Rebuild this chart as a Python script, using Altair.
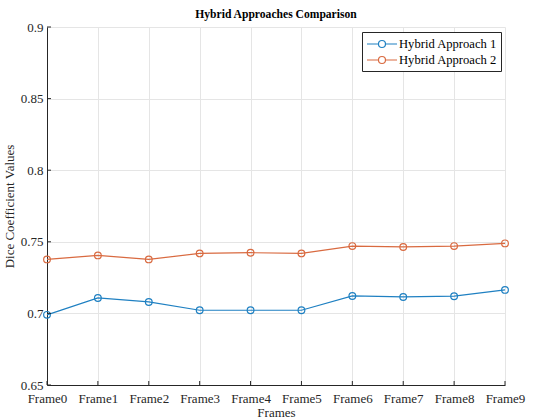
import altair as alt
import pandas as pd

frames = [f"Frame{i}" for i in range(10)]
approach1 = [0.699, 0.7108, 0.708, 0.7022, 0.7022, 0.7022, 0.7122, 0.7115, 0.712, 0.7164]
approach2 = [0.7377, 0.7405, 0.7377, 0.7419, 0.7424, 0.7419, 0.747, 0.7464, 0.747, 0.7489]
series_names = ["Hybrid Approach 1", "Hybrid Approach 2"]
colors = ["#1f80c2", "#d96a40"]
y_ticks = [0.65, 0.7, 0.75, 0.8, 0.85, 0.9]

rows = []
for name, vals in zip(series_names, [approach1, approach2]):
    for f, v in zip(frames, vals):
        rows.append({"Frame": f, "Value": v, "Series": name})
df = pd.DataFrame(rows)

FONT = "Liberation Serif"
W, H = 458, 358

legend_sym = ("M-1.0,0H0.64M1.64,0H3.29"
              "M0.64,0A0.5,0.5,0,1,0,1.64,0A0.5,0.5,0,1,0,0.64,0")

x_scale = alt.Scale(type="point", domain=frames, padding=0)
x_axis = alt.Axis(labelAngle=0, ticks=False, grid=True, gridColor="#e5e5e5",
                  domainColor="#262626", labelColor="#262626",
                  labelFontSize=13, titleFontSize=13, titleFontWeight="normal",
                  labelPadding=7, titlePadding=1, titleColor="#262626")
y_scale = alt.Scale(domain=[0.65, 0.9], nice=False, zero=False)
y_axis = alt.Axis(values=y_ticks, format="~g", ticks=False, grid=True,
                  gridColor="#e5e5e5", domainColor="#262626", labelColor="#262626",
                  labelFontSize=13, titleFontSize=13, titleFontWeight="normal",
                  labelPadding=4, titlePadding=4, titleColor="#262626")

lines = alt.Chart(df).mark_line(
    strokeWidth=1.2,
    point=alt.OverlayMarkDef(filled=False, fill="white", fillOpacity=0, size=45, strokeWidth=1.2),
).encode(
    x=alt.X("Frame:N", sort=frames, title="Frames", scale=x_scale, axis=x_axis),
    y=alt.Y("Value:Q", title="Dice Coefficient Values", scale=y_scale, axis=y_axis),
    color=alt.Color("Series:N", scale=alt.Scale(domain=series_names, range=colors),
                    legend=alt.Legend(title=None, orient="none", legendX=315, legendY=5,
                                      symbolType=legend_sym, symbolSize=196,
                                      symbolStrokeWidth=1.2, symbolFillColor="transparent",
                                      labelFontSize=12.6, labelFont=FONT, labelColor="#000000",
                                      strokeColor="#262626", fillColor="white",
                                      padding=4, rowPadding=1, symbolOffset=0,
                                      labelOffset=17, labelLimit=200)),
)

ytick_df = pd.DataFrame({"t": y_ticks})
yticks = alt.Chart(ytick_df).mark_rule(color="#262626", strokeWidth=1).encode(
    y=alt.Y("t:Q", title="Dice Coefficient Values", scale=y_scale, axis=y_axis),
    x=alt.value(0), x2=alt.value(4),
)
xtick_df = pd.DataFrame({"f": frames})
xticks = alt.Chart(xtick_df).mark_rule(color="#262626", strokeWidth=1).encode(
    x=alt.X("f:N", sort=frames, title="Frames", scale=x_scale, axis=x_axis),
    y=alt.value(H), y2=alt.value(H - 4),
)

chart = alt.layer(lines, yticks, xticks).properties(
    width=W, height=H,
    title=alt.TitleParams("Hybrid Approaches Comparison", font=FONT, fontSize=11.6,
                          fontWeight="bold", color="#000000", anchor="middle", offset=0),
    autosize=alt.AutoSizeParams(type="none"),
    padding={"left": 47, "top": 27, "right": 34, "bottom": 35},
).configure(font=FONT).configure_view(stroke=None).configure_axis(labelFont=FONT, titleFont=FONT)

chart.save("out.html", embed_options={"renderer": "svg", "actions": False})
